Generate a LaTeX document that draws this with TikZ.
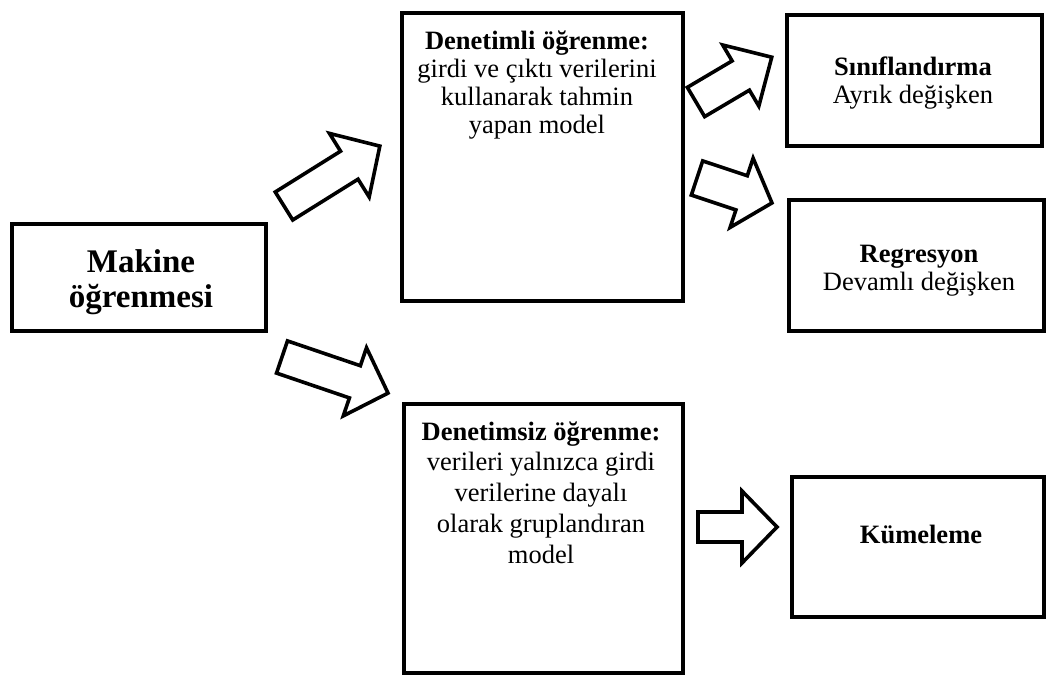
\documentclass[tikz,border=0pt]{standalone}
\usepackage{fontspec}
\setmainfont{Liberation Serif}
\newcommand\blockarrow[7]{% tail x, tail y, angle, length, half shaft, half head, head length
  \begin{scope}[shift={(#1,#2)}, rotate=#3]
    \draw[arrowline] (0,{-#5}) -- ({#4-#7},{-#5}) -- ({#4-#7},{-#6}) -- (#4,0)
      -- ({#4-#7},{#6}) -- ({#4-#7},{#5}) -- (0,{#5}) -- cycle;
  \end{scope}}
\begin{document}
\begin{tikzpicture}[x=1pt,y=-1pt,
  box/.style={draw=black, line width=4pt, inner sep=0pt},
  arrowline/.style={draw=black, line width=3.6pt, fill=white, line join=miter},
  txt/.style={align=center, inner sep=0pt, font=\fontsize{26.5}{27.7}\selectfont},
  bigtxt/.style={align=center, inner sep=0pt, font=\fontsize{33}{35}\selectfont\bfseries}]
\useasboundingbox (0,0) rectangle (1048,677);

% boxes
\node[box, minimum width=254pt, minimum height=107pt] (ml)  at (139,277.5) {};
\node[box, minimum width=281pt, minimum height=288pt] (sup) at (542.5,157) {};
\node[box, minimum width=255pt, minimum height=131pt] (cls) at (914.5,80.5) {};
\node[box, minimum width=255pt, minimum height=131pt] (reg) at (916.5,265.5) {};
\node[box, minimum width=279pt, minimum height=269pt] (uns) at (543.5,538.5) {};
\node[box, minimum width=252pt, minimum height=140pt] (clu) at (918,547) {};

% texts (anchored on the baseline of their last line)
\node[bigtxt, anchor=base] (tml) at (141,307) {Makine\\öğrenmesi};
\node[txt, anchor=base] (tsup) at (537,133) {\textbf{Denetimli öğrenme:}\\girdi ve çıktı verilerini\\kullanarak tahmin\\yapan model};
\node[txt, anchor=base] (tcls) at (913,103) {\textbf{Sınıflandırma}\\Ayrık değişken};
\node[txt, anchor=base] (treg) at (919,290) {\textbf{Regresyon}\\Devamlı değişken};
\node[txt, anchor=base, font=\fontsize{26.5}{30.7}\selectfont] (tuns) at (541,563) {\textbf{Denetimsiz öğrenme:}\\verileri yalnızca girdi\\verilerine dayalı\\olarak gruplandıran\\model};
\node[txt, anchor=base] (tclu) at (921,543) {\textbf{Kümeleme}};

% block arrows
\blockarrow{284}{206}{32}{113}{16.5}{37.5}{36}
\blockarrow{282}{357}{-18.8}{112}{17}{36}{35}
\blockarrow{696}{102}{30.6}{88}{17}{35.5}{36}
\blockarrow{697}{178}{-18.4}{79}{18}{36.5}{32}
\blockarrow{698}{527}{0}{79}{15}{36}{35}
\end{tikzpicture}
\end{document}
